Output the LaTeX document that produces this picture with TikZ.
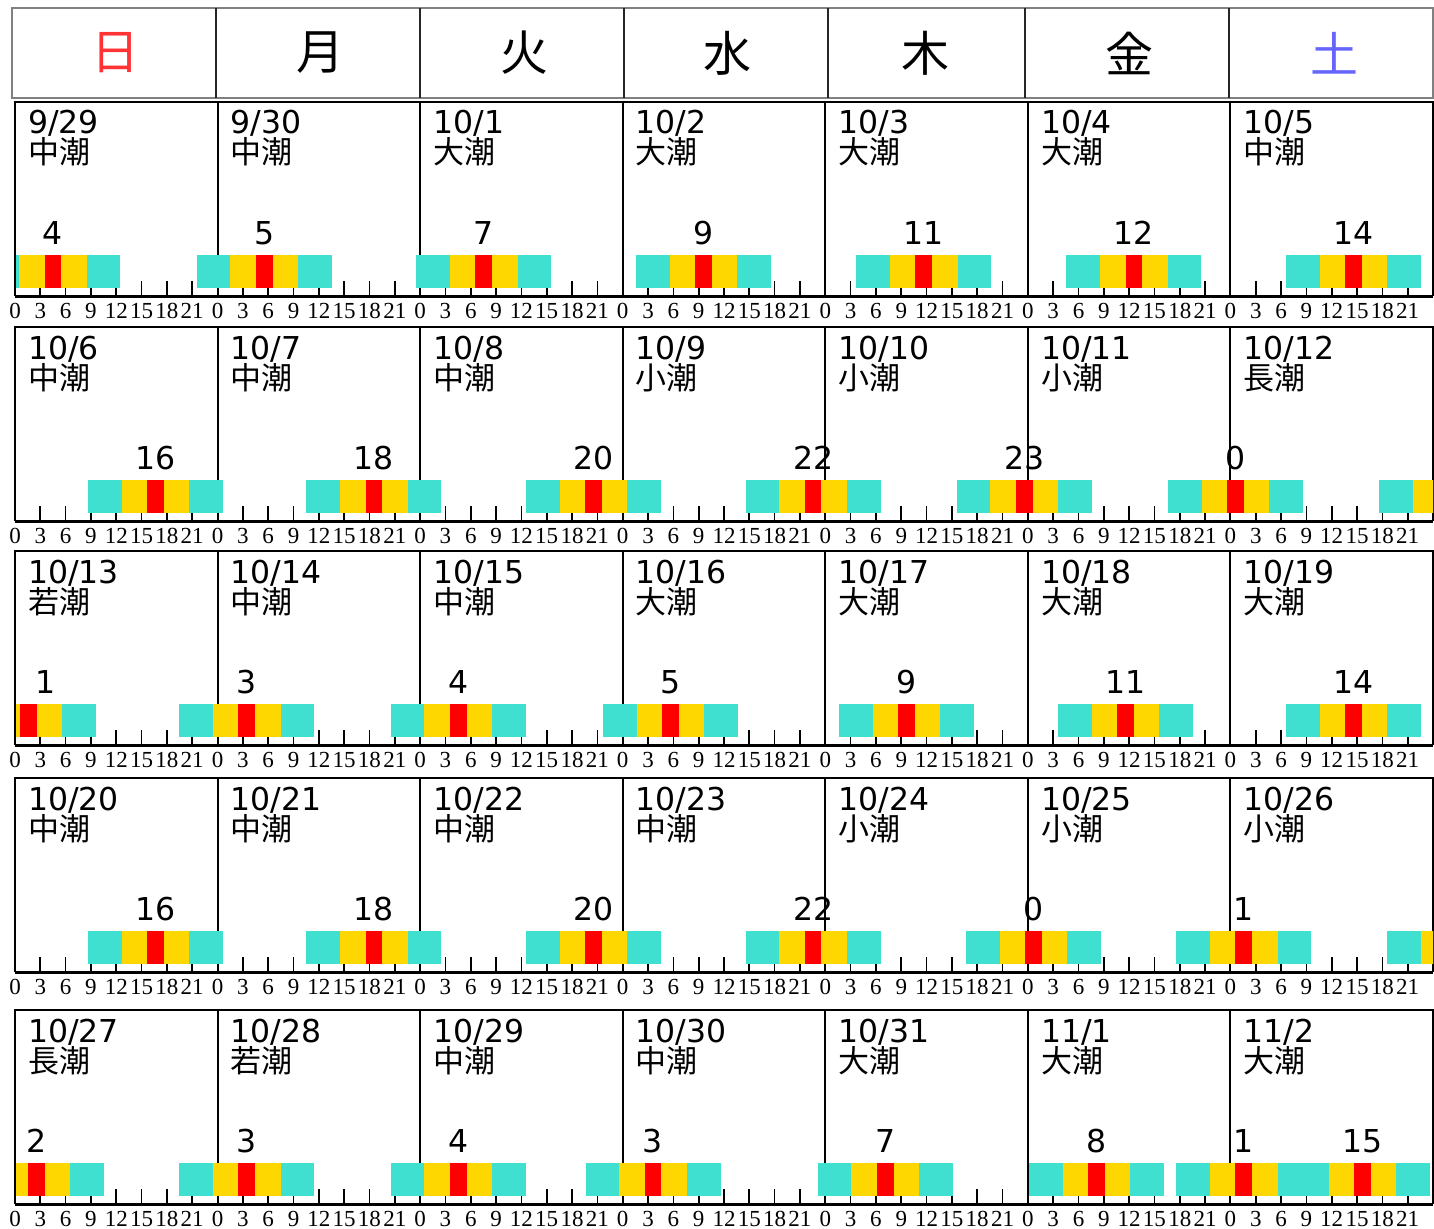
\documentclass[tikz,border=0pt]{standalone}
\usepackage{fontspec}
\usepackage{tikz}
\usetikzlibrary{calc}
\newfontfamily\jpfont{Noto Sans CJK JP}
\newfontfamily\numfont{DejaVu Sans}
\newfontfamily\tickfont{Liberation Serif}
\definecolor{tidecyan}{HTML}{40E0D0}
\definecolor{tideyellow}{HTML}{FFD700}
\definecolor{tidered}{HTML}{FF0000}
\definecolor{sunred}{HTML}{FF3333}
\definecolor{satblue}{HTML}{6666FF}
\definecolor{headgray}{HTML}{808080}
\tikzset{
  headline/.style={line width=1.2pt, black!85},
  cellline/.style={line width=2pt, black},
  axisline/.style={line width=3pt, black},
  tickline/.style={line width=1.7pt, black},
  daytext/.style={inner sep=0pt, font=\jpfont\fontsize{48}{50}\selectfont},
  datetext/.style={anchor=base west, inner sep=0pt, font=\numfont\fontsize{31.5}{32}\selectfont},
  kindtext/.style={anchor=base west, inner sep=0pt, font=\jpfont\fontsize{31}{32}\selectfont},
  hourtext/.style={anchor=base, inner sep=0pt, font=\numfont\fontsize{31.5}{32}\selectfont},
  ticktext/.style={anchor=base, inner sep=0pt, font=\tickfont\fontsize{23}{24}\selectfont},
}

\begin{document}
\begin{tikzpicture}[x=1pt, y=-1pt]
\useasboundingbox (0,0) rectangle (1434,1228);
% Header
\draw [headgray, line width=2pt] (12,8) rectangle (1433,98);
\foreach \xd in {216,420,624,828,1025,1229}
  \draw [headline] (\xd,8) -- (\xd,98);
\foreach \xc/\wname/\col [count=\i] in {115/日/sunred, 320/月/black, 524/火/black, 727/水/black, 925/木/black, 1129/金/black, 1334/土/satblue}
  \node [daytext, text=\col] (wday\i) at (\xc,53) {\wname};
% Weeks
\foreach \ytop/\cells [count=\r] in {
  102/{9/29/中潮, 9/30/中潮, 10/1/大潮, 10/2/大潮, 10/3/大潮, 10/4/大潮, 10/5/中潮},
  327/{10/6/中潮, 10/7/中潮, 10/8/中潮, 10/9/小潮, 10/10/小潮, 10/11/小潮, 10/12/長潮},
  551/{10/13/若潮, 10/14/中潮, 10/15/中潮, 10/16/大潮, 10/17/大潮, 10/18/大潮, 10/19/大潮},
  778/{10/20/中潮, 10/21/中潮, 10/22/中潮, 10/23/中潮, 10/24/小潮, 10/25/小潮, 10/26/小潮},
  1010/{10/27/長潮, 10/28/若潮, 10/29/中潮, 10/30/中潮, 10/31/大潮, 11/1/大潮, 11/2/大潮}} {
  % Frame
  \draw [cellline] (15,\ytop+194) -- (15,\ytop) -- (1433,\ytop) -- (1433,\ytop+194);
  \foreach \c in {1,...,6}
    \draw [cellline] (15+\c*202.57,\ytop) -- (15+\c*202.57,\ytop+194);
  % Ticks
  \foreach \c in {0,...,6} {
    \foreach \t in {1,...,7}
      \draw [tickline] (15+\c*202.57+\t*25.32,\ytop+179) -- (15+\c*202.57+\t*25.32,\ytop+194);
    \foreach \t/\hh in {0/0,1/3,2/6,3/9,4/12,5/15,6/18,7/21}
      \node [ticktext] (tick\r-\c-\t) at (15+\c*202.57+\t*25.32,\ytop+216) {\hh};
  }
  \draw [axisline] (15,\ytop+194) -- (1433,\ytop+194);
  % Dates
  \foreach \mo/\dy/\kind [count=\c from 0] in \cells {
    \node [datetext] (date\r-\c) at (28+\c*202.57,\ytop+32) {\mo/\dy};
    \node [kindtext] (kind\r-\c) at (28+\c*202.57,\ytop+62) {\kind};
  }
}
% Tide bars
\foreach \r/\c/\hr/\lab/\dx [count=\k] in {
  1/0/4.50/4/0, 1/1/5.53/5/0, 1/2/7.55/7/0, 1/3/9.55/9/0, 1/4/11.66/11/0, 1/5/12.57/12/0, 1/6/14.57/14/0,
  2/0/16.65/16/0, 2/1/18.53/18/0, 2/2/20.55/20/0, 2/3/22.55/22/0, 2/4/23.57/23/0, 2/6/0.60/0/0, 2/6/25.60//0,
  3/0/1.58/1/17, 3/1/3.47/3/0, 3/2/4.51/4/0, 3/3/5.64/5/0, 3/4/9.60/9/0, 3/5/11.59/11/0, 3/6/14.58/14/0,
  4/0/16.65/16/0, 4/1/18.53/18/0, 4/2/20.55/20/0, 4/3/22.55/22/0, 4/5/0.65/0/0, 4/6/1.58/1/0, 4/6/26.60//0,
  5/0/2.56/2/0, 5/1/3.47/3/0, 5/2/4.51/4/0, 5/3/3.59/3/0, 5/4/7.10/7/0, 5/5/8.13/8/0, 5/6/1.58/1/0, 5/6/15.66/15/0} {
  \pgfmathsetmacro\ytop{{102,327,551,778,1010}[\r-1]}
  \pgfmathsetmacro\xp{15+\c*202.57+\hr*8.44}
  \begin{scope}
    \clip (16,\ytop) rectangle (1433,\ytop+200);
    \fill [tidecyan] (\xp-67.5,\ytop+153) rectangle (\xp+67.5,\ytop+186);
    \fill [tideyellow] (\xp-33.8,\ytop+153) rectangle (\xp+33.8,\ytop+186);
    \fill [tidered] (\xp-8.44,\ytop+153) rectangle (\xp+8.44,\ytop+186);
  \end{scope}
  \ifx\lab\empty\else
    \node [hourtext] (peak\k) at (\xp+\dx,\ytop+142) {\lab};
  \fi
}
\end{tikzpicture}
\end{document}
